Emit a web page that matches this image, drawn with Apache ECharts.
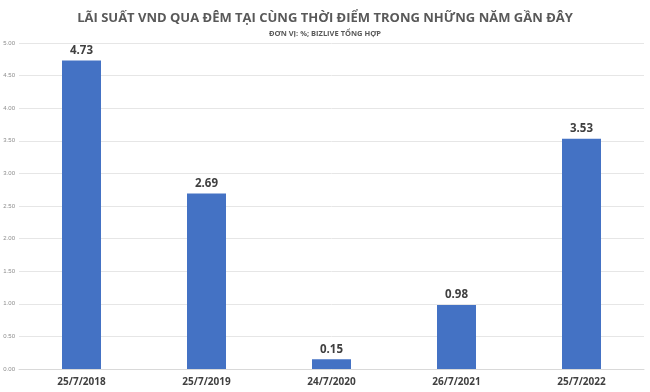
<!DOCTYPE html>
<html><head><meta charset="utf-8">
<script src="https://cdn.jsdelivr.net/npm/echarts@6/dist/echarts.min.js"></script>
<style>html,body{margin:0;padding:0;background:#fff}#c{width:650px;height:392px}</style>
</head><body><div id="c"></div>
<script>
const categories = ["25/7/2018","25/7/2019","24/7/2020","26/7/2021","25/7/2022"];
const values = [4.73, 2.69, 0.15, 0.98, 3.53];
const titleText = "LÃI SUẤT VND QUA ĐÊM TẠI CÙNG THỜI ĐIỂM TRONG NHỮNG NĂM GẦN ĐÂY";
const subtitleText = "ĐƠN VỊ: %; BIZLIVE TỔNG HỢP";
const chart = echarts.init(document.getElementById('c'));
chart.setOption({
  backgroundColor:'#fff',
  animation:false,
  title:{text:titleText, subtext:subtitleText, left:'center', top:7, itemGap:5,
    textStyle:{fontFamily:'Open Sans', fontSize:13, fontWeight:'bold', color:'#595959'},
    subtextStyle:{fontFamily:'Open Sans', fontSize:7.5, fontWeight:'bold', color:'#595959'}},
  grid:{left:19, right:6, top:43, bottom:23},
  xAxis:{type:'category', data:categories,
    axisLine:{lineStyle:{color:'#d9d9d9'}}, axisTick:{show:false},
    axisLabel:{fontFamily:'Open Sans', fontSize:10, fontWeight:'bold', color:'#404040', margin:8}},
  yAxis:{type:'value', min:0, max:5, interval:0.5,
    axisLabel:{formatter:v=>v.toFixed(2), fontSize:6, color:'#8c8c8c', margin:4},
    splitLine:{lineStyle:{color:'#e6e6e6'}}},
  series:[{type:'bar', data:values, barWidth:39,
    itemStyle:{color:'#4472C4'},
    label:{show:true, position:'top', formatter:p=>p.value.toFixed(2), fontFamily:'Open Sans', fontSize:11.5, fontWeight:'bold', color:'#404040', distance:4}}]
});
</script></body></html>
